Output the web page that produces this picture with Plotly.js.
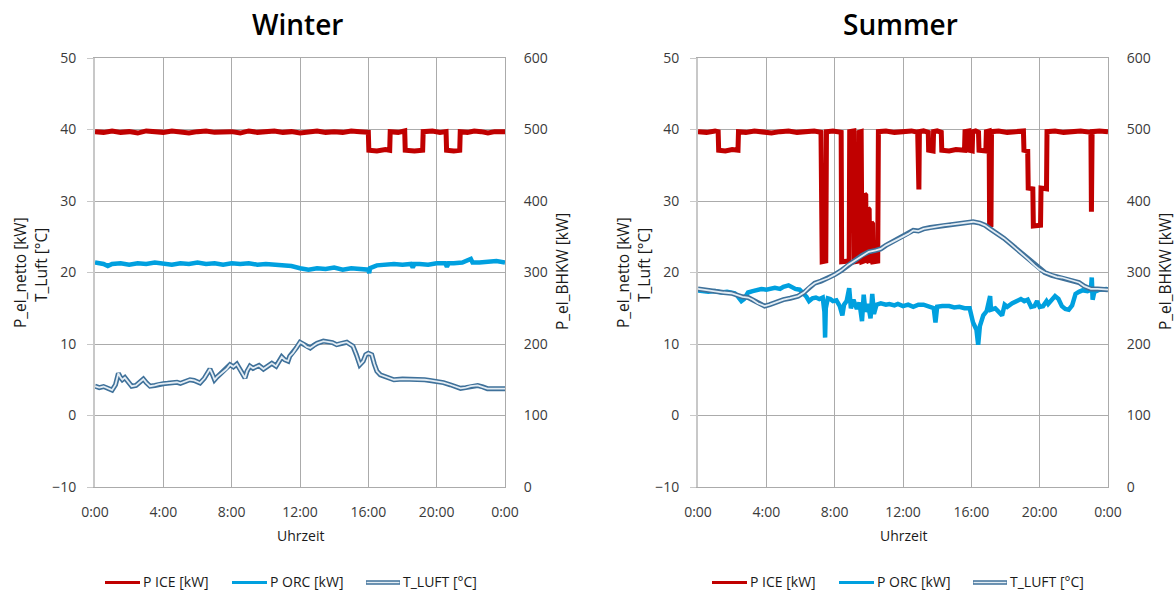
<!DOCTYPE html>
<html>
<head>
<meta charset="utf-8">
<script src="https://cdn.plot.ly/plotly-3.0.1.min.js"></script>
<style>html,body{margin:0;padding:0;background:#fff;}#chart{width:1175px;height:592px;}</style>
</head>
<body>
<div id="chart"></div>
<script>
// ---------- DATA ----------
const panelTitles = ["Winter", "Summer"];
const hourTicks = [0, 4, 8, 12, 16, 20, 24];
const hourLabels = ["0:00", "4:00", "8:00", "12:00", "16:00", "20:00", "0:00"];
const seriesNames = ["P ICE [kW]", "P ORC [kW]", "T_LUFT [°C]"];

// Winter – P ICE (right axis, kW)
const winterIceH = [0,0.5,1,1.5,2,2.5,3,3.5,4,4.5,5,5.5,6,6.5,7,7.5,8,8.5,9,9.5,10,10.5,11,11.5,12,12.5,13,13.5,14,14.5,15,15.5,16.0,
  16.03,16.5,17,17.25, 17.28,17.75,18.13, 18.16,18.7,19.18, 19.21,19.75,20.2,20.55, 20.58,21.0,21.35, 21.38,21.8,22.2,22.6,23,23.4,23.8,24];
const winterIceKW = [497,496,498,496,497,495,498,497,496,498,497,495,497,498,496,497,497,495,498,496,497,498,496,497,495,497,498,496,497,496,498,497,496,
  471,470,472,471, 497,496,498, 471,470,471, 497,498,496,497, 471,470,471, 497,496,498,497,495,497,498,497];

// Winter – P ORC (left axis, kW)
const winterOrcH = [0,0.5,0.75,1.0,1.5,2,2.5,3,3.5,4,4.5,5,5.5,6,6.5,7,7.5,8,8.5,9,9.5,10,10.5,11,11.5,12,12.5,13,13.5,14,14.5,15,15.5,16.0,16.05,16.1,16.5,17,17.5,18,18.5,18.6,18.7,19,19.5,20,20.5,20.6,20.7,21,21.5,22.0,22.1,22.5,23,23.5,24];
const winterOrcKW = [21.4,21.2,20.9,21.2,21.3,21.1,21.3,21.2,21.4,21.3,21.1,21.3,21.2,21.4,21.2,21.3,21.1,21.3,21.2,21.3,21.1,21.2,21.1,21.1,20.9,20.6,20.4,20.6,20.5,20.7,20.4,20.6,20.5,20.4,19.9,20.6,21.0,21.1,21.2,21.1,21.2,20.7,21.2,21.2,21.1,21.3,21.3,20.8,21.3,21.3,21.4,21.9,21.4,21.4,21.5,21.6,21.4];

// Winter – T_LUFT (left axis, °C)
const winterTH = [0,0.25,0.5,0.75,1.0,1.2,1.37,1.5,1.6,1.75,2.0,2.15,2.4,2.6,2.83,3.0,3.22,3.5,3.75,4.0,4.25,4.5,4.8,5.0,5.25,5.56,5.8,6.15,6.4,6.6,6.73,6.9,7.0,7.15,7.3,7.5,7.7,7.9,8.1,8.3,8.5,8.65,8.78,8.9,9.07,9.25,9.46,9.6,9.86,10.1,10.35,10.6,10.75,10.93,11.1,11.3,11.4,11.6,11.8,12.0,12.2,12.4,12.6,12.8,13.0,13.37,13.6,13.9,14.15,14.4,14.74,14.9,15.1,15.3,15.5,15.7,15.85,16.0,16.2,16.35,16.5,16.7,16.9,17.2,17.5,18.0,18.5,19.0,19.3,19.6,20.0,20.4,20.8,21.1,21.4,21.7,22.0,22.4,22.7,22.97,23.5,24];
const winterTC = [4.1,3.9,4.05,3.8,3.55,4.3,5.9,5.3,5.0,5.3,4.5,4.1,4.2,4.6,5.1,4.6,4.1,4.2,4.4,4.45,4.5,4.6,4.65,4.5,4.7,5.0,4.9,4.55,5.2,6.0,6.5,5.6,5.0,5.4,5.7,6.1,6.5,7.1,6.8,7.2,6.4,5.6,5.25,6.2,6.9,6.6,6.8,7.0,6.5,6.9,7.3,6.9,7.5,8.2,7.8,7.6,8.3,8.8,9.5,10.25,10.0,9.6,9.45,9.8,10.1,10.4,10.3,10.2,9.9,10.1,10.25,10.0,9.7,8.5,7.1,7.6,8.5,8.7,8.5,7.2,6.2,5.7,5.5,5.2,5.0,5.1,5.1,5.0,5.0,4.9,4.8,4.6,4.3,4.0,3.8,3.9,4.1,4.2,4.0,3.75,3.75,3.75];

// Summer – P ICE (right axis, kW)
const summerIceH = [0,0.5,1.0,1.18,1.21,1.6,2.0,2.34,2.37,2.8,3.3,3.8,4.3,4.8,5.3,5.8,6.3,6.8,7.2,7.24,7.27,7.48,7.52,7.9,8.38,8.41,8.85,8.88,9.12,9.16,9.38,9.42,9.55,9.6,9.72,9.75,9.82,9.85,9.92,9.95,10.02,10.05,10.12,10.15,10.22,10.25,10.52,10.56,11.0,11.5,12.0,12.5,12.86,12.88,12.93,12.96,13.2,13.48,13.5,13.76,13.79,14.0,14.24,14.27,14.7,15.1,15.6,15.63,15.85,15.88,16.05,16.08,16.25,16.42,16.45,16.85,16.88,17.04,17.07,17.15,17.18,17.6,18.1,18.6,19.05,19.08,19.3,19.33,19.6,19.63,20.05,20.08,20.4,20.43,20.9,21.4,21.9,22.4,23.0,23.03,23.07,23.5,24];
const summerIceKW = [497,496,498,497,471,470,472,471,497,496,498,497,495,497,498,496,497,498,496,430,315,316,497,498,496,315,316,497,498,315,316,496,497,315,316,410,408,315,316,390,388,315,316,370,368,315,316,497,498,496,497,498,496,417,416,497,498,496,471,470,497,498,496,471,470,472,471,497,498,471,470,497,498,496,471,470,497,498,365,366,497,498,496,497,498,471,470,418,417,365,366,418,417,497,498,496,497,498,496,385,497,498,497];

// Summer – P ORC (left axis, kW)
const summerOrcH = [0,0.3,0.6,1.0,1.37,1.7,2.15,2.35,2.54,2.7,2.93,3.2,3.5,3.7,4.0,4.3,4.5,4.8,5.0,5.3,5.5,5.7,5.95,6.2,6.35,6.5,6.7,6.9,7.1,7.3,7.4,7.44,7.48,7.6,7.74,7.9,8.1,8.3,8.45,8.55,8.7,8.85,8.95,9.1,9.3,9.45,9.6,9.7,9.8,9.95,10.1,10.2,10.3,10.45,10.7,11.0,11.2,11.5,11.7,12.0,12.3,12.6,12.9,13.2,13.5,13.8,13.9,14.0,14.3,14.7,15.0,15.3,15.6,15.9,16.1,16.3,16.4,16.5,16.7,16.9,17.1,17.15,17.4,17.6,17.8,17.95,18.1,18.4,18.7,18.9,19.1,19.3,19.5,19.7,19.85,20.0,20.2,20.4,20.5,20.7,20.9,21.1,21.3,21.5,21.7,21.9,22.1,22.3,22.5,22.8,23.0,23.05,23.1,23.2,23.5,23.9,24];
const summerOrcKW = [17.5,17.4,17.3,17.4,17.2,17.3,17.1,16.6,16.0,16.3,17.2,17.4,17.5,17.7,17.6,17.8,17.85,17.7,18.0,18.2,17.9,17.7,17.6,17.0,16.6,16.0,16.4,16.5,16.3,16.5,14.5,10.9,15.0,16.4,16.3,16.0,16.1,15.3,14.0,15.5,16.0,17.8,15.0,16.2,14.9,15.8,13.2,16.9,14.5,15.6,13.6,17.0,14.2,15.5,15.7,15.5,15.6,15.4,15.6,15.3,15.5,15.2,15.5,15.5,15.2,15.0,13.0,15.2,15.3,15.3,15.1,15.2,15.0,15.0,13.0,12.0,9.9,12.5,14.0,14.6,16.7,14.8,15.0,14.5,14.0,15.5,15.2,15.7,16.0,16.3,16.0,16.2,15.2,15.3,16.0,15.2,15.3,16.0,15.6,16.2,16.7,16.3,15.3,14.9,14.8,15.4,17.0,17.3,17.5,17.4,17.6,19.3,16.2,17.3,17.6,17.7,17.6];

// Summer – T_LUFT (left axis, °C)
const summerTH = [0,0.5,1.0,1.5,1.95,2.3,2.6,2.93,3.2,3.5,3.9,4.2,4.5,4.7,5.0,5.4,5.86,6.2,6.5,6.83,7.2,7.6,8.0,8.4,8.8,9.2,9.6,10.0,10.4,10.7,11.0,11.4,12.0,12.3,12.6,12.9,13.2,13.6,14.0,14.4,14.8,15.1,15.5,16.1,16.5,16.8,17.1,17.5,17.9,18.3,18.7,19.0,19.3,19.7,20.0,20.3,20.7,21.0,21.3,21.7,22.0,22.3,22.6,23.0,23.4,24];
const summerTC = [17.7,17.5,17.4,17.2,17.1,16.8,16.6,16.5,16.2,15.7,15.3,15.5,15.8,16.0,16.2,16.4,16.7,17.2,17.9,18.5,18.8,19.2,19.7,20.3,21.1,21.7,22.4,22.9,23.1,23.3,23.8,24.3,25.0,25.4,25.9,25.8,26.1,26.3,26.4,26.6,26.7,26.8,26.9,27.1,26.9,26.6,26.1,25.5,24.8,24.0,23.2,22.6,21.9,21.0,20.4,20.0,19.6,19.4,19.3,19.0,18.8,18.6,18.1,17.7,17.7,17.6];

// ---------- STYLE ----------
const C_ICE = "#c00000", C_ORC = "#00a0df", C_T_OUT = "#3f719a", C_T_IN = "#e4edf4";
const FONT = "Open Sans, DejaVu Sans, sans-serif";
const W = 1175, H = 592;
const px = x => x / W, py = y => 1 - y / H;

const panels = [
  {x0: 95, x1: 505, ice: [winterIceH, winterIceKW], orc: [winterOrcH, winterOrcKW], t: [winterTH, winterTC]},
  {x0: 698, x1: 1108, ice: [summerIceH, summerIceKW], orc: [summerOrcH, summerOrcKW], t: [summerTH, summerTC]}
];
const yTop = 58, yBot = 487;

const traces = [];
const layout = {
  width: W, height: H, margin: {l: 0, r: 0, t: 0, b: 0},
  paper_bgcolor: "#fff", plot_bgcolor: "#fff", showlegend: false,
  font: {family: FONT, size: 14, color: "#404040"},
  annotations: [], shapes: []
};

panels.forEach((p, i) => {
  const xa = i === 0 ? "x" : "x2";
  const yR = i === 0 ? "y" : "y3";   // right axis (kW BHKW)
  const yL = i === 0 ? "y2" : "y4";  // left axis (kW / °C), overlaying
  const xKey = i === 0 ? "xaxis" : "xaxis2";
  const yRKey = i === 0 ? "yaxis" : "yaxis3";
  const yLKey = i === 0 ? "yaxis2" : "yaxis4";

  layout[xKey] = {
    domain: [px(p.x0), px(p.x1)], range: [0, 24], anchor: yR,
    tickmode: "array", tickvals: hourTicks, ticktext: hourLabels,
    showgrid: true, gridcolor: "#ababab", gridwidth: 1,
    showline: true, linecolor: "#ababab", linewidth: 1, mirror: true,
    zeroline: false, ticks: "", ticklabelstandoff: 12, fixedrange: true,
    tickfont: {family: FONT, size: 14, color: "#3a3a3a"}
  };
  layout[yRKey] = {
    domain: [py(yBot), py(yTop)], range: [0, 600], dtick: 100, tick0: 0, anchor: xa, side: "right",
    showgrid: true, gridcolor: "#ababab", gridwidth: 1,
    showline: true, linecolor: "#ababab", linewidth: 1,
    zeroline: false, ticks: "", ticklabelstandoff: 15, fixedrange: true,
    tickfont: {family: FONT, size: 14, color: "#3a3a3a"}
  };
  layout[yLKey] = {
    overlaying: yR, anchor: xa, side: "left", range: [-10, 50], dtick: 10, tick0: 0,
    showgrid: false, showline: true, linecolor: "#c8c8c8", linewidth: 2,
    ticks: "outside", ticklen: 6, tickcolor: "#c8c8c8", tickwidth: 1,
    zeroline: false, ticklabelstandoff: 8, fixedrange: true,
    tickfont: {family: FONT, size: 14, color: "#3a3a3a"}
  };

  traces.push({type: "scatter", mode: "lines", name: seriesNames[0], x: p.ice[0], y: p.ice[1], xaxis: xa, yaxis: yR,
    line: {color: C_ICE, width: 5}, hoverinfo: "skip"});
  traces.push({type: "scatter", mode: "lines", name: seriesNames[1], x: p.orc[0], y: p.orc[1], xaxis: xa, yaxis: yL,
    line: {color: C_ORC, width: 4.5}, hoverinfo: "skip"});
  traces.push({type: "scatter", mode: "lines", name: seriesNames[2], x: p.t[0], y: p.t[1], xaxis: xa, yaxis: yL,
    line: {color: C_T_OUT, width: 5}, hoverinfo: "skip"});
  traces.push({type: "scatter", mode: "lines", name: seriesNames[2], x: p.t[0], y: p.t[1], xaxis: xa, yaxis: yL,
    line: {color: C_T_IN, width: 1.8}, hoverinfo: "skip"});

  const cx = (p.x0 + p.x1) / 2;
  const ann = layout.annotations;
  ann.push({text: panelTitles[i], xref: "paper", yref: "paper", x: px(cx - 3), y: py(24), xanchor: "center", yanchor: "middle",
    showarrow: false, font: {family: FONT, size: 28, color: "#000", weight: 600}});
  ann.push({text: "Uhrzeit", xref: "paper", yref: "paper", x: px(cx), y: py(535), xanchor: "center", yanchor: "middle",
    showarrow: false, font: {family: FONT, size: 14, color: "#1a1a1a"}});
  ann.push({text: "P_el_netto [kW]", xref: "paper", yref: "paper", x: px(p.x0 - 75), y: py(273), xanchor: "center", yanchor: "middle",
    textangle: -90, showarrow: false, font: {family: FONT, size: 15.5, color: "#1a1a1a"}});
  ann.push({text: "T_Luft [°C]", xref: "paper", yref: "paper", x: px(p.x0 - 54), y: py(265), xanchor: "center", yanchor: "middle",
    textangle: -90, showarrow: false, font: {family: FONT, size: 15.5, color: "#1a1a1a"}});
  ann.push({text: "P_el_BHKW [kW]", xref: "paper", yref: "paper", x: px(p.x1 + 57), y: py(272), xanchor: "center", yanchor: "middle",
    textangle: -90, showarrow: false, font: {family: FONT, size: 15.5, color: "#1a1a1a"}});

  // legend (drawn manually)
  const off = i === 0 ? 0 : 607;
  const ly = py(582.5);
  const items = [
    {x0: 105, x1: 140, tx: 141, color: C_ICE, name: seriesNames[0]},
    {x0: 232, x1: 267, tx: 268, color: C_ORC, name: seriesNames[1]},
    {x0: 366, x1: 400, tx: 401, color: C_T_OUT, name: seriesNames[2], dbl: true}
  ];
  items.forEach(it => {
    layout.shapes.push({type: "line", xref: "paper", yref: "paper", x0: px(it.x0 + off), x1: px(it.x1 + off), y0: ly, y1: ly,
      line: {color: it.color, width: it.dbl ? 4.5 : 3}});
    if (it.dbl) layout.shapes.push({type: "line", xref: "paper", yref: "paper", x0: px(it.x0 + off + 0.5), x1: px(it.x1 + off - 0.5), y0: ly, y1: ly,
      line: {color: C_T_IN, width: 1.6}});
    ann.push({text: it.name, xref: "paper", yref: "paper", x: px(it.tx + off), y: py(581), xanchor: "left", yanchor: "middle",
      showarrow: false, font: {family: FONT, size: 14, color: "#1a1a1a"}});
  });
});

Plotly.newPlot("chart", traces, layout, {staticPlot: true, displayModeBar: false});
</script>
</body>
</html>
